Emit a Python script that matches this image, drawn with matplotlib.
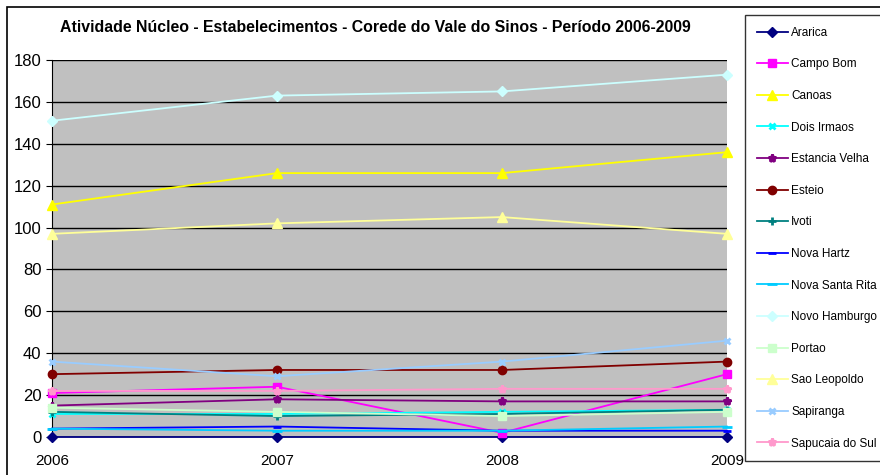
import matplotlib.pyplot as plt
from matplotlib.patches import Rectangle

years = [2006, 2007, 2008, 2009]

araraca = [0, 0, 0, 0]
campo_bom = [21, 24, 2, 30]
canoas = [111, 126, 126, 136]
dois_irmaos = [11, 11, 12, 13]
estancia_velha = [15, 18, 17, 17]
esteio = [30, 32, 32, 36]
ivoti = [12, 10, 11, 13]
nova_hartz = [4, 5, 3, 3]
nova_santa_rita = [4, 3, 3, 5]
novo_hamburgo = [151, 163, 165, 173]
portao = [14, 12, 10, 12]
sao_leopoldo = [97, 102, 105, 97]
sapiranga = [36, 29, 36, 46]
sapucaia_do_sul = [22, 22, 23, 23]

series = [
    ("Ararica", araraca, "#000080", "D", 5),
    ("Campo Bom", campo_bom, "#FF00FF", "s", 6),
    ("Canoas", canoas, "#FFFF00", "^", 7),
    ("Dois Irmaos", dois_irmaos, "#00FFFF", "x", 5),
    ("Estancia Velha", estancia_velha, "#800080", "*", 6),
    ("Esteio", esteio, "#800000", "o", 6),
    ("Ivoti", ivoti, "#008080", "+", 6),
    ("Nova Hartz", nova_hartz, "#0000FF", "_", 6),
    ("Nova Santa Rita", nova_santa_rita, "#00CCFF", "_", 7),
    ("Novo Hamburgo", novo_hamburgo, "#CCFFFF", "D", 5),
    ("Portao", portao, "#CCFFCC", "s", 6),
    ("Sao Leopoldo", sao_leopoldo, "#FFFF99", "^", 7),
    ("Sapiranga", sapiranga, "#99CCFF", "x", 5),
    ("Sapucaia do Sul", sapucaia_do_sul, "#FF99CC", "*", 6),
]

plt.rcParams['font.family'] = ['Liberation Sans', 'DejaVu Sans']

fig = plt.figure(figsize=(8.8, 4.75), dpi=100)
fig.patches.append(Rectangle((7 / 880, -0.1), 2, 1.1 - 7 / 475, transform=fig.transFigure,
                             fill=False, edgecolor='black', linewidth=1.2))

ax = fig.add_axes([52 / 880, 1 - 437 / 475, 675 / 880, 377 / 475])
ax.set_facecolor('#C0C0C0')

for name, vals, color, marker, ms in series:
    mew = 2 if marker in ('x', '+', '_', '*') else 1
    ax.plot(years, vals, color=color, marker=marker, markersize=ms, markeredgewidth=mew,
            linewidth=1.3, label=name, clip_on=False, zorder=3)

ax.set_xlim(2006, 2009)
ax.set_ylim(0, 180)
ax.set_yticks(range(0, 181, 20))
ax.set_xticks(years)
ax.yaxis.grid(True, color='black', linewidth=1)
ax.set_axisbelow(True)
for s in ['top', 'right', 'bottom']:
    ax.spines[s].set_visible(False)
ax.spines['left'].set_color('black')
ax.tick_params(axis='y', labelsize=12, length=4, direction='out')
ax.tick_params(axis='x', labelsize=11, length=0, pad=12)

fig.text(375 / 880, 1 - 27 / 475, "Atividade Núcleo - Estabelecimentos - Corede do Vale do Sinos - Período 2006-2009",
         ha='center', va='center', fontsize=11.4, fontweight='bold')

leg = fig.legend(loc='upper left', bbox_to_anchor=(745 / 880, 1 - 15 / 475), fontsize=8.5,
                 frameon=True, fancybox=False, edgecolor='black', labelspacing=1.66,
                 handlelength=2.6, handletextpad=0.3, borderpad=1.0, borderaxespad=0)
leg.get_frame().set_linewidth(1)

plt.savefig("out.png", dpi=100)
